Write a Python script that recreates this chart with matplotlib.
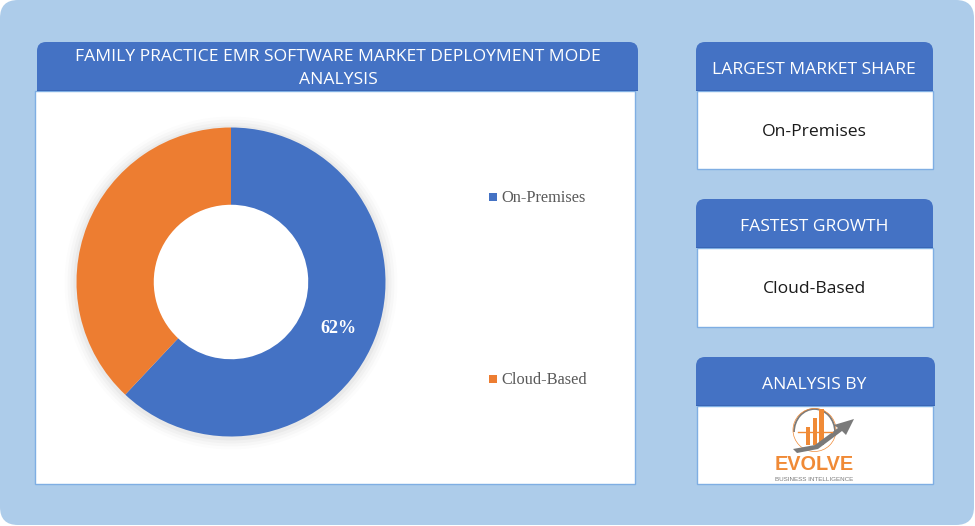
from matplotlib import pyplot as plt
from matplotlib.patches import FancyBboxPatch, Rectangle, Circle, Arc, Polygon

W, H = 975, 526

#Chart data
labels = ['On-Premises', 'Cloud-Based']
shares = [62, 38]
title_lines = ['FAMILY PRACTICE EMR SOFTWARE MARKET DEPLOYMENT MODE', 'ANALYSIS']
card_titles = ['LARGEST MARKET SHARE', 'FASTEST GROWTH', 'ANALYSIS BY']
card_values = ['On-Premises', 'Cloud-Based', '']

BLUE = '#4472C4'
ORANGE = '#ED7D31'
PALE = '#ADCCEA'
EDGE = '#7FAEE3'
SANS = 'Open Sans'

plt.rcParams['font.family'] = SANS

fig = plt.figure(figsize=(W / 100, H / 100), dpi=100, facecolor='white')

#Full-figure axes in pixel coordinates for the layout
bg = fig.add_axes([0, 0, 1, 1])
bg.set_xlim(0, W)
bg.set_ylim(H, 0)
bg.axis('off')


def rounded(ax, x0, y0, x1, y1, r, color, z=1):
    ax.add_patch(FancyBboxPatch((x0 + r, y0 + r), x1 - x0 - 2 * r, y1 - y0 - 2 * r,
                                boxstyle='round,pad=%f,rounding_size=%f' % (r, r),
                                fc=color, ec='none', zorder=z))


def header(ax, x0, y0, x1, y1, r=9):
    #Round the top corners only, the bottom edge stays square
    rounded(ax, x0, y0, x1, y0 + 30, r, BLUE, 2)
    ax.add_patch(Rectangle((x0, y0 + r), x1 - x0, y1 - y0 - r, fc=BLUE, ec='none', zorder=2))
    ax.add_patch(Rectangle((x0, y1 - 1), x1 - x0, 1.2, fc='#3A66B5', ec='none', zorder=4))


#Page background
rounded(bg, 0, 0, 974, 525, 18, PALE)

#Main panel
bg.add_patch(Rectangle((35, 91), 600, 393, fc='white', ec=EDGE, lw=1, zorder=1.5))
header(bg, 37, 42, 638, 91)
for y, line in zip([57, 80.5], title_lines):
    bg.text(338, y, line, color='white', fontsize=12.6, ha='center', va='center', zorder=5)

#Side cards
card_tops = [42, 199, 357]
card_bottoms = [169, 327, 484]
for i in range(3):
    top = card_tops[i]
    x1 = 933 + (2 if i == 2 else 0)
    bg.add_patch(Rectangle((696.5, top + 49), 236, card_bottoms[i] - top - 49,
                           fc='white', ec=EDGE, lw=1, zorder=1.5))
    header(bg, 696, top, x1, top + 49)
    bg.text(814, top + 28, card_titles[i], color='white', fontsize=12.6,
            ha='center', va='center', zorder=5)
    if card_values[i]:
        bg.text(814, top + 90, card_values[i], color='#1a1a1a', fontsize=12.6,
                ha='center', va='center', zorder=5)

#Soft shadow behind the donut
for grow, alpha in [(12, 0.012), (9, 0.018), (6, 0.025), (3, 0.03)]:
    bg.add_patch(Circle((231, 283), 154.5 + grow, fc='black', ec='none', alpha=alpha, zorder=4))
bg.add_patch(Circle((231, 282), 78, fc='white', ec='none', zorder=4.5))

#Donut
cx, cy, rad = 231, 282, 154.5
pie_ax = fig.add_axes([(cx - rad) / W, 1 - (cy + rad) / H, 2 * rad / W, 2 * rad / H], zorder=2)
pie_ax.patch.set_alpha(0)
wedges, _ = pie_ax.pie(shares, colors=[BLUE, ORANGE], startangle=90, counterclock=False,
                       radius=1, wedgeprops={'width': 0.5, 'linewidth': 0})
pie_ax.set_xlim(-1, 1)
pie_ax.set_ylim(-1, 1)
pie_ax.text(0.697, -0.3, '%d%%' % shares[0], color='white', fontsize=13, fontweight='bold',
            family='Liberation Serif', ha='center', va='center')

#Legend
top_ax = fig.add_axes([0, 0, 1, 1], zorder=3)
top_ax.set_xlim(0, W)
top_ax.set_ylim(H, 0)
top_ax.axis('off')
for y, name, col in zip([197, 379], labels, [BLUE, ORANGE]):
    top_ax.add_patch(Rectangle((489, y - 4), 8, 8, fc=col, ec='none'))
    top_ax.text(501, y + 0.5, name, color='#595959', fontsize=11.8, family='Liberation Serif',
                ha='left', va='center')

#Logo
gray = '#7A7A7A'
logo_orange = '#F08A36'
top_ax.add_patch(Arc((814.5, 432), 41, 46, theta1=180, theta2=360, color=gray, lw=1.3))
top_ax.add_patch(Circle((814.5, 430), 21.5, fc='none', ec=logo_orange, lw=0.5))
top_ax.plot([798, 832], [432, 432], color=logo_orange, lw=1)
for x, y, w in zip([806, 812.5, 819], [427, 418, 409], [4, 4.5, 4.5]):
    top_ax.add_patch(Rectangle((x, y), w, 445 - y, fc=logo_orange, ec='none'))
top_ax.add_patch(Polygon([(793, 449), (815, 445), (838, 428), (834, 425), (854, 419),
                          (846, 435), (842, 431), (818, 449), (797, 453)], fc=gray, ec='none'))
top_ax.text(814.5, 465, 'EVOLVE', color=logo_orange, fontsize=14.3, fontweight='bold',
            family='Liberation Sans', ha='center', va='center')
top_ax.text(814.5, 479.5, 'BUSINESS INTELLIGENCE', color=gray, fontsize=4.5,
            family='Liberation Sans', ha='center', va='center')

fig.savefig('out.png', dpi=100)
